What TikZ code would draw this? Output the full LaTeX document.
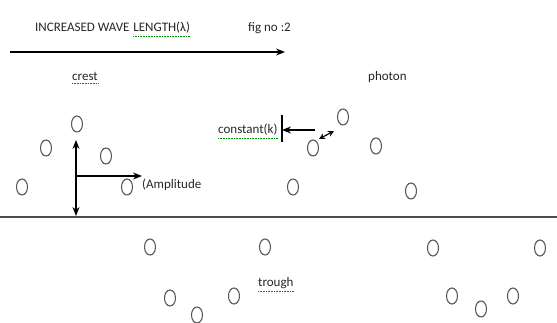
\documentclass[tikz,border=0pt]{standalone}
\usepackage{fontspec}
\setmainfont{Carlito}
\usetikzlibrary{arrows.meta}

\begin{document}
\begin{tikzpicture}[x=1pt, y=-1pt,
  txt/.style={font=\fontsize{13}{15}\selectfont, text=black!85, inner sep=0pt},
  spell/.style={green!55!black, densely dotted, line width=0.6pt},
  dot/.style={draw=gray!70!black, line width=1.1pt},
  bigtip/.tip={Stealth[length=9pt, width=7pt]},
  smalltip/.tip={Stealth[length=6pt, width=6pt]},
  arr/.style={-bigtip, line width=1.2pt}]
\useasboundingbox (0,0) rectangle (557,323);

% Heading and the long wavelength arrow
\node [txt, anchor=base west] (head) at (35,32) {INCREASED WAVE};
\node [txt, anchor=base west] (headb) at ([xshift=3.5pt]head.base east) {LENGTH(λ)};
\node [txt, anchor=base west] (fig) at (248,32) {fig no :2};
\draw [spell] ([yshift=-2pt]headb.south west) -- ([yshift=-2pt]headb.south east);
\coordinate (wl0) at (10,52);
\coordinate (wl1) at (285,52);
\draw [arr] (wl0) -- (wl1);

% Labels
\node [txt, anchor=base west] (crest) at (72,81) {crest};
\node [txt, anchor=base west] (photon) at (368,81) {photon};
\node [txt, anchor=base west] (const) at (218,134) {constant(k)};
\node [txt, anchor=base west] (ampl) at (142,189) {(Amplitude};
\node [txt, anchor=base west] (trough) at (258,287) {trough};
\foreach \n in {crest, const, trough} {
  \draw [spell] ([yshift=-2pt]\n.south west) -- ([yshift=-2pt]\n.south east);
}

% The axis line
\coordinate (ax0) at (0,217);
\coordinate (ax1) at (557,217);
\draw [gray!60!black, line width=1.4pt] (ax0) -- (ax1);

% Circles along the wave
\foreach \x/\y in {
  22/187, 46/148, 77/124, 106/156, 127/187,
  293/187, 313/148, 343/117, 376/146, 411/191,
  150/247, 265/247, 170/298, 197/315, 234/296,
  433/248, 540/248, 452/296, 481/309, 513/296} {
  \draw [dot] (\x,\y) ellipse (5.5 and 8);
}

% Amplitude arrows
\coordinate (amp0) at (76,140);
\coordinate (amp1) at (76,216);
\coordinate (amp2) at (76,176);
\draw [bigtip-bigtip, line width=1.2pt] (amp0) -- (amp1);
\draw [arr] (amp2) -- (ampl.west |- amp2);

% Constant arrow with its stop bar
\coordinate (bar0) at (282,115);
\coordinate (bar1) at (282,142);
\draw [line width=1.2pt] (bar0) -- (bar1);
\coordinate (k0) at (315,130);
\draw [arr] (k0) -- (bar0 |- k0);
\coordinate (p0) at (319,139);
\coordinate (p1) at (334,131);
\draw [smalltip-smalltip, line width=1.2pt] (p0) -- (p1);
\end{tikzpicture}
\end{document}
